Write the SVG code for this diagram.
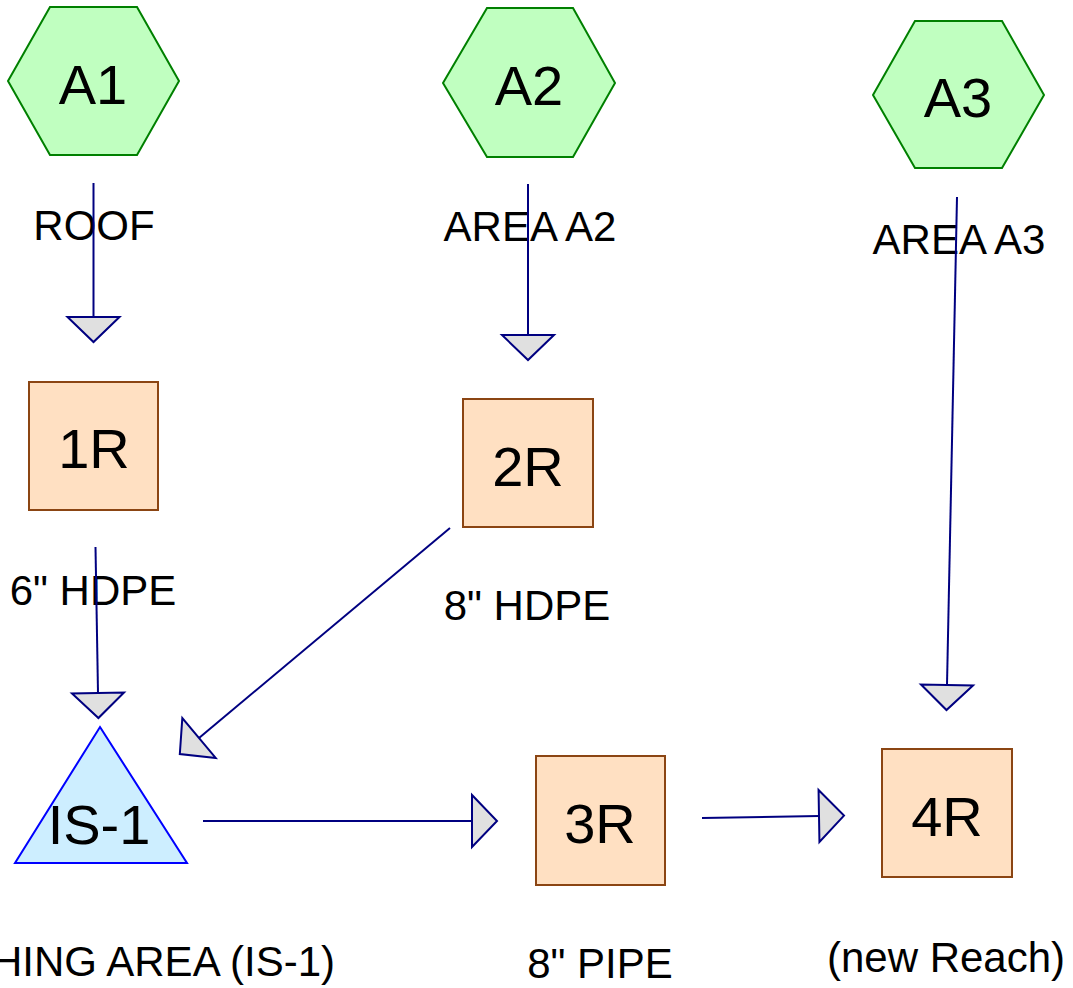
<svg xmlns="http://www.w3.org/2000/svg" width="1073" height="988" viewBox="0 0 1073 988">
  <style>
    .hex { fill: #c0ffc0; stroke: #008000; stroke-width: 2; }
    .reach { fill: #ffe0c2; stroke: #8b4513; stroke-width: 2; }
    .pond { fill: #cdeeff; stroke: #0000ff; stroke-width: 2; }
    .name { font-family: "Liberation Sans", Arial, sans-serif; font-size: 56px; fill: #000; text-anchor: middle; }
    .lbl { font-family: "Liberation Sans", Arial, sans-serif; font-size: 42px; fill: #000; text-anchor: middle; }
    .conn { stroke: #000080; stroke-width: 2; fill: none; marker-end: url(#arr); }
  </style>
  <defs>
    <marker id="arr" viewBox="-2 -2 29 56" refX="0" refY="26" markerWidth="29" markerHeight="56" markerUnits="userSpaceOnUse" orient="auto" overflow="visible">
      <path d="M0,0 L25,26 L0,52 Z" fill="#e0e0e0" stroke="#000080" stroke-width="2" stroke-linejoin="miter"/>
    </marker>
  </defs>
  <rect width="1073" height="988" fill="#ffffff"/>

  <g id="A1">
    <polygon class="hex" points="8,81 50,7 137,7 179,81 137,155 50,155"/>
    <text class="name" x="93" y="104">A1</text>
    <text class="lbl" x="94" y="240">ROOF</text>
  </g>
  <g id="A2">
    <polygon class="hex" points="443,83 487,8 573,8 615,83 573,157 487,157"/>
    <text class="name" x="529" y="105">A2</text>
    <text class="lbl" x="530" y="241">AREA A2</text>
  </g>
  <g id="A3">
    <polygon class="hex" points="873,95 915,21 1002,21 1044,95 1002,168 915,168"/>
    <text class="name" x="958" y="117">A3</text>
    <text class="lbl" x="959" y="254">AREA A3</text>
  </g>
  <g id="R1">
    <rect class="reach" x="29" y="382" width="129" height="128"/>
    <text class="name" x="94" y="468">1R</text>
    <text class="lbl" x="93" y="605">6" HDPE</text>
  </g>
  <g id="R2">
    <rect class="reach" x="463" y="399" width="130" height="128"/>
    <text class="name" x="528" y="486">2R</text>
    <text class="lbl" x="527" y="620">8" HDPE</text>
  </g>
  <g id="IS1">
    <polygon class="pond" points="100,727 187,863 15,863"/>
    <text class="name" x="99" y="844">IS-1</text>
    <text class="lbl" x="335" y="976" style="text-anchor:end">HING AREA (IS-1)</text>
  </g>
  <g id="R3">
    <rect class="reach" x="536" y="756" width="129" height="129"/>
    <text class="name" x="600" y="843">3R</text>
    <text class="lbl" x="600" y="978">8" PIPE</text>
  </g>
  <g id="R4">
    <rect class="reach" x="882" y="749" width="130" height="128"/>
    <text class="name" x="947" y="836">4R</text>
    <text class="lbl" x="946" y="972">(new Reach)</text>
  </g>

  <g id="connectors">
    <line class="conn" x1="93.5" y1="183" x2="93.5" y2="317"/>
    <line class="conn" x1="528" y1="184" x2="528" y2="335"/>
    <line class="conn" x1="957" y1="197" x2="947" y2="685"/>
    <line class="conn" x1="95.5" y1="547" x2="98" y2="693"/>
    <line class="conn" x1="450" y1="528" x2="199" y2="738"/>
    <line class="conn" x1="203" y1="821" x2="472" y2="821"/>
    <line class="conn" x1="702" y1="818" x2="819" y2="816"/>
  </g>
</svg>
